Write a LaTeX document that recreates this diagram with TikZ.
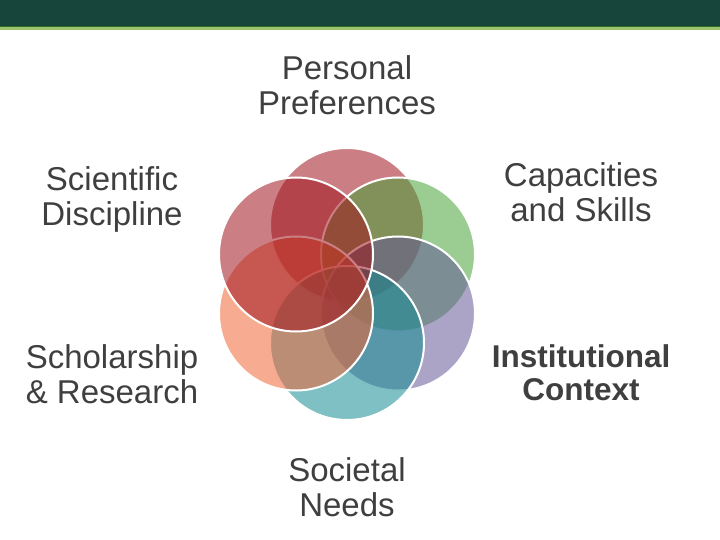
\documentclass[tikz,border=0pt]{standalone}
\usepackage{fontspec}
\setmainfont{Liberation Sans}
\usepackage{tikz}

\definecolor{barGreen}{HTML}{17453B}
\definecolor{barLine}{HTML}{2F6A2A}
\definecolor{barLight}{HTML}{9DC46C}
\definecolor{textGray}{HTML}{3F3F3F}
\definecolor{petalRed}{HTML}{9F121B}
\definecolor{petalGreen}{HTML}{46A135}
\definecolor{petalPurple}{HTML}{635796}
\definecolor{petalTeal}{HTML}{128A92}
\definecolor{petalSalmon}{HTML}{F06332}

\begin{document}
\begin{tikzpicture}[x=1pt, y=-1pt,
    petal/.style={draw=white, line width=2pt, fill opacity=0.54},
    petaltext/.style={text=textGray, align=center, font=\fontsize{33}{35}\selectfont}]
  \useasboundingbox (0,0) rectangle (720,540);
  \fill[barGreen] (0,0) rectangle (720,26.5);
  \fill[barLine] (0,26.5) rectangle (720,27.5);
  \fill[barLight] (0,27.5) rectangle (720,30.5);
  \filldraw[petal, fill=petalRed]    (347,225) circle (77pt);
  \filldraw[petal, fill=petalGreen]  (398,254.5) circle (77pt);
  \filldraw[petal, fill=petalPurple] (398,313.5) circle (77pt);
  \filldraw[petal, fill=petalTeal]   (347,343) circle (77pt);
  \filldraw[petal, fill=petalSalmon] (296,313.5) circle (77pt);
  \filldraw[petal, fill=petalRed]    (296,254.5) circle (77pt);
  \node[petaltext] (personal)      at (347,85)  {Personal\\Preferences};
  \node[petaltext] (capacities)    at (581,192) {Capacities\\and Skills};
  \node[petaltext] (scientific)    at (112,199) {Scientific\\Discipline};
  \node[petaltext] (scholarship)   at (112,374) {Scholarship\\\& Research};
  \node[petaltext, font=\fontsize{31.5}{33}\selectfont\bfseries] (institutional) at (581,373) {Institutional\\Context};
  \node[petaltext] (societal)      at (347,487) {Societal\\Needs};
\end{tikzpicture}
\end{document}
